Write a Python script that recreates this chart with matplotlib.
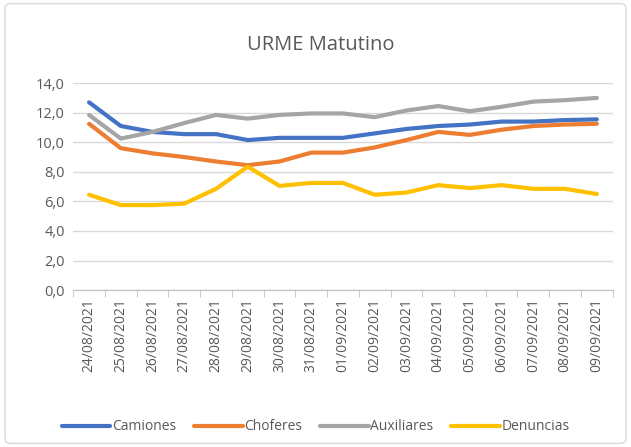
import matplotlib
matplotlib.use("Agg")
import matplotlib.pyplot as plt
from matplotlib.patches import FancyBboxPatch
from matplotlib.ticker import FuncFormatter

fechas = ["24/08/2021", "25/08/2021", "26/08/2021", "27/08/2021", "28/08/2021",
          "29/08/2021", "30/08/2021", "31/08/2021", "01/09/2021", "02/09/2021",
          "03/09/2021", "04/09/2021", "05/09/2021", "06/09/2021", "07/09/2021",
          "08/09/2021", "09/09/2021"]
camiones = [12.7, 11.1, 10.7, 10.55, 10.55, 10.15, 10.3, 10.3, 10.3, 10.6,
            10.9, 11.1, 11.2, 11.4, 11.4, 11.5, 11.55]
choferes = [11.25, 9.6, 9.25, 9.0, 8.7, 8.45, 8.7, 9.3, 9.3, 9.65,
            10.15, 10.7, 10.5, 10.85, 11.1, 11.2, 11.25]
auxiliares = [11.85, 10.25, 10.7, 11.3, 11.85, 11.6, 11.85, 11.95, 11.95, 11.7,
              12.15, 12.45, 12.1, 12.4, 12.75, 12.85, 13.0]
denuncias = [6.45, 5.75, 5.75, 5.85, 6.85, 8.35, 7.05, 7.25, 7.25, 6.45,
             6.6, 7.1, 6.9, 7.1, 6.85, 6.85, 6.5]

series = [("Camiones", camiones, "#4472C4"),
          ("Choferes", choferes, "#ED7D31"),
          ("Auxiliares", auxiliares, "#A5A5A5"),
          ("Denuncias", denuncias, "#FFC000")]

plt.rcParams['font.family'] = ['Open Sans', 'DejaVu Sans']
txt = "#595959"

fig = plt.figure(figsize=(6.31, 4.47), dpi=100)
border = FancyBboxPatch((0.008, 0.008), 0.984, 0.984, boxstyle="round,pad=0,rounding_size=0.01",
                        transform=fig.transFigure, facecolor="none", edgecolor="#D9D9D9",
                        lw=1, zorder=-1)
fig.patches.append(border)

ax = fig.add_axes([0.116, 0.351, 0.855, 0.463])
ax.patch.set_alpha(0)
x = range(len(fechas))
for name, vals, col in series:
    ax.plot(x, vals, color=col, linewidth=3, label=name, solid_capstyle="round")

ax.set_xlim(-0.5, len(fechas) - 0.5)
ax.set_ylim(0, 14)
ax.set_yticks(range(0, 15, 2))
ax.yaxis.set_major_formatter(FuncFormatter(lambda v, p: f"{v:.1f}".replace(".", ",")))
ax.grid(axis="y", color="#D9D9D9", linewidth=1)
ax.set_axisbelow(True)
for s in ["top", "right", "left"]:
    ax.spines[s].set_visible(False)
ax.spines["bottom"].set_color("#BFBFBF")
ax.tick_params(axis="y", length=0, labelsize=10.5, colors=txt, pad=6)

ax.set_xticks(list(x))
ax.set_xticklabels(fechas, rotation=90, fontsize=10, color=txt)
ax.tick_params(axis="x", which="major", length=0, pad=6)
ax.set_xticks([i - 0.5 for i in range(len(fechas) + 1)], minor=True)
ax.tick_params(axis="x", which="minor", length=5, color="#BFBFBF", direction="out")

fig.text(0.508, 0.9, "URME Matutino", fontsize=14.5, color=txt, ha="center", va="center")

fig.legend(loc="lower center", ncol=4, frameon=False, fontsize=10,
           labelcolor=txt, bbox_to_anchor=(0.5, 0.0), handlelength=3.5,
           handletextpad=0.1, columnspacing=1.3)

fig.savefig("out.png", dpi=100)
